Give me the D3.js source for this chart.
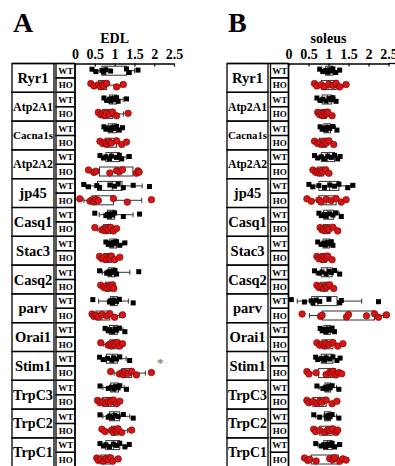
<!DOCTYPE html>
<html>
<head>
<meta charset="utf-8">
<script src="https://cdn.jsdelivr.net/npm/d3@7"></script>
<style>
  body { margin: 0; background: #fff; }
  svg { display: block; }
  text { font-family: "Liberation Serif", "Times New Roman", serif; font-weight: bold; }
</style>
</head>
<body>
<svg id="chart" width="395" height="466"></svg>
<script>
const genes = ['Ryr1', 'Atp2A1', 'Cacna1s', 'Atp2A2', 'jp45', 'Casq1', 'Stac3',
  'Casq2', 'parv', 'Orai1', 'Stim1', 'TrpC3', 'TrpC2', 'TrpC1'];
const groups = ['WT', 'HO'];
const tickValues = [0, 0.5, 1, 1.5, 2, 2.5];

// EDL, relative expression per animal
const edlWT = [
  [0.43, 0.53, 0.68, 0.72, 0.78, 0.9, 1.3, 1.37, 1.59],
  [0.73, 0.8, 0.87, 0.9, 0.95, 0.98, 1.05, 1.09, 1.3],
  [0.73, 0.78, 0.84, 0.9, 0.95, 0.98, 1.05, 1.12, 1.2],
  [0.63, 0.72, 0.78, 0.87, 0.92, 1.05, 1.12, 1.18, 1.37],
  [0.22, 0.34, 0.55, 0.62, 0.88, 1.0, 1.09, 1.22, 1.47, 1.88],
  [0.5, 0.78, 0.82, 0.87, 0.9, 0.95, 1.0, 1.22, 1.63],
  [0.78, 0.84, 0.88, 0.92, 0.97, 1.01, 1.05, 1.13, 1.26],
  [0.62, 0.8, 0.84, 0.88, 0.92, 0.97, 1.01, 1.05, 1.61],
  [0.45, 0.87, 0.9, 0.95, 0.98, 1.05, 1.12, 1.47],
  [0.76, 0.84, 0.88, 0.95, 1.01, 1.05, 1.12, 1.26],
  [0.62, 0.72, 0.82, 0.93, 0.97, 1.05, 1.13, 1.38],
  [0.63, 0.84, 0.92, 0.98, 1.03, 1.09, 1.13, 1.3],
  [0.63, 0.84, 0.88, 0.95, 1.01, 1.09, 1.22, 1.47],
  [0.63, 0.72, 0.78, 0.87, 0.97, 1.05, 1.13, 1.26, 1.37]
];
const edlHO = [
  [0.4, 0.48, 0.59, 0.65, 0.7, 0.73, 0.8, 1.05, 1.22],
  [0.59, 0.65, 0.7, 0.76, 0.8, 0.87, 0.95, 1.05, 1.34],
  [0.63, 0.7, 0.76, 0.8, 0.87, 0.92, 1.05, 1.18, 1.3],
  [0.34, 0.48, 0.53, 0.88, 1.05, 1.12, 1.2, 1.55, 1.59, 1.62],
  [0.12, 0.38, 0.43, 0.48, 0.53, 0.59, 0.97, 1.32, 1.93],
  [0.5, 0.68, 0.72, 0.76, 0.8, 0.84, 0.9, 0.97, 1.05],
  [0.62, 0.68, 0.73, 0.8, 0.84, 0.88, 0.92, 1.0, 1.13],
  [0.65, 0.73, 0.78, 0.82, 0.87, 0.9, 0.95, 0.98],
  [0.43, 0.48, 0.53, 0.59, 0.68, 0.8, 0.88, 1.0, 1.2],
  [0.65, 0.84, 0.88, 0.92, 0.97, 1.01, 1.07, 1.13, 1.2],
  [0.9, 1.12, 1.18, 1.22, 1.26, 1.34, 1.43, 1.55, 1.93],
  [0.57, 0.63, 0.7, 0.78, 0.84, 0.9, 0.97, 1.05, 1.13],
  [0.68, 0.76, 0.92, 0.97, 1.01, 1.05, 1.09, 1.18, 1.43],
  [0.55, 0.59, 0.65, 0.72, 0.78, 0.84, 0.9, 0.95, 1.09]
];

// soleus
const solWT = [
  [0.78, 0.86, 0.93, 0.98, 1.03, 1.07, 1.11, 1.18, 1.28],
  [0.71, 0.79, 0.86, 0.94, 1.01, 1.07, 1.11, 1.19],
  [0.79, 0.84, 0.9, 0.94, 0.98, 1.03, 1.11, 1.21],
  [0.65, 0.73, 0.82, 0.9, 0.98, 1.07, 1.15, 1.23, 1.29],
  [0.51, 0.61, 0.76, 0.9, 1.03, 1.15, 1.26, 1.48, 1.61],
  [0.76, 0.82, 0.9, 0.94, 1.03, 1.11, 1.19, 1.32],
  [0.73, 0.82, 0.88, 0.93, 0.96, 1.01, 1.07, 1.11],
  [0.65, 0.76, 0.84, 0.94, 1.01, 1.07, 1.15, 1.28],
  [0.07, 0.4, 0.57, 0.61, 0.69, 0.78, 1.01, 1.28, 1.32, 2.25],
  [0.79, 0.84, 0.9, 0.94, 0.98, 1.03, 1.09, 1.15],
  [0.68, 0.73, 0.82, 0.9, 0.94, 1.03, 1.11, 1.21, 1.29],
  [0.71, 0.86, 0.93, 0.96, 1.01, 1.04, 1.09, 1.26],
  [0.63, 0.78, 0.94, 0.98, 1.01, 1.04, 1.09, 1.26],
  [0.68, 0.82, 0.88, 0.93, 0.98, 1.03, 1.09, 1.15, 1.28]
];
const solHO = [
  [0.65, 0.71, 0.82, 0.9, 1.01, 1.11, 1.19, 1.28, 1.44],
  [0.73, 0.78, 0.82, 0.86, 0.9, 0.94, 0.98, 1.09],
  [0.65, 0.73, 0.79, 0.86, 0.9, 0.94, 1.01, 1.13],
  [0.61, 0.68, 0.73, 0.78, 0.82, 0.86, 0.93, 1.01],
  [0.46, 0.57, 0.76, 0.82, 0.94, 1.07, 1.19, 1.32, 1.44],
  [0.79, 0.84, 0.88, 0.93, 0.96, 1.01, 1.11, 1.23],
  [0.71, 0.76, 0.82, 0.86, 0.9, 0.94, 0.98, 1.09],
  [0.71, 0.76, 0.82, 0.88, 0.93, 0.96, 1.03, 1.13],
  [0.34, 0.8, 0.84, 1.45, 1.5, 1.95, 2.15, 2.25, 2.45],
  [0.71, 0.78, 0.84, 0.9, 0.94, 1.01, 1.11, 1.23, 1.36],
  [0.46, 0.51, 0.69, 0.94, 1.03, 1.07, 1.11, 1.19, 1.26, 1.33],
  [0.46, 0.51, 0.61, 0.71, 0.78, 0.84, 0.94, 1.09, 1.21],
  [0.63, 0.68, 0.78, 0.9, 0.98, 1.03, 1.11, 1.19, 1.23],
  [0.4, 0.48, 0.53, 0.69, 1.03, 1.11, 1.15, 1.28, 1.36, 1.44]
];

// significance marks: [gene, value]
const edlStars = [['Stim1', 2.15]];

// fixed vertical scatter so dots don't sit on one line
const jitter = [-2.5, 1.5, -0.5, 2.5, -1.5, 0.5, -3, 3, -1, 1];

const svg = d3.select('#chart');
const topY = 63.5, rowH = 28.8;

function drawPanel(p) {
  const g = svg.append('g');
  const x = d3.scaleLinear().domain([0, 2.5]).range([p.zero, p.end]);
  const y = d3.scaleBand().domain(genes).range([topY, topY + genes.length * rowH]);
  const sub = d3.scaleBand().domain(groups).range([0, rowH]);

  // panel letter + title
  g.append('text').attr('x', p.left + 1).attr('y', 32)
    .attr('font-size', 28).text(p.letter);
  g.append('text').attr('x', x(1)).attr('y', 43).attr('text-anchor', 'middle')
    .attr('font-size', 14).text(p.title);

  // table
  const table = g.append('g').attr('stroke', '#000').attr('stroke-width', 1.3).attr('fill', 'none');
  genes.forEach(gene => {
    table.append('rect').attr('x', p.left).attr('y', y(gene))
      .attr('width', p.split - p.left).attr('height', rowH);
    groups.forEach(gr => {
      table.append('rect').attr('x', p.sub).attr('y', y(gene) + sub(gr))
        .attr('width', p.zero - p.sub).attr('height', sub.bandwidth());
    });
  });
  g.append('line').attr('x1', p.left).attr('x2', p.zero).attr('y1', topY).attr('y2', topY)
    .attr('stroke', '#000').attr('stroke-width', 1.3);
  g.append('line').attr('x1', p.zero).attr('x2', p.zero).attr('y1', topY).attr('y2', 470)
    .attr('stroke', '#000').attr('stroke-width', 1.5);

  const labels = g.append('g');
  const maxW = p.split - p.left - 2;
  genes.forEach(gene => {
    const t = labels.append('text').attr('x', (p.left + p.split) / 2).attr('y', y(gene) + rowH / 2)
      .attr('dy', '0.35em').attr('text-anchor', 'middle').attr('font-size', 14.5).text(gene);
    const w = t.node().getComputedTextLength();
    if (w > maxW) t.attr('font-size', 14.5 * maxW / w);
    groups.forEach(gr => {
      labels.append('text').attr('x', (p.sub + p.zero) / 2 + 0.3)
        .attr('y', y(gene) + sub(gr) + sub.bandwidth() / 2).attr('dy', '0.36em')
        .attr('text-anchor', 'middle').attr('font-size', 9).text(gr);
    });
  });

  // axis on top
  const axis = g.append('g').attr('transform', `translate(0,${topY})`)
    .call(d3.axisTop(x).tickValues(tickValues).tickFormat(d => String(d))
      .tickSizeInner(-3).tickSizeOuter(0).tickPadding(5));
  axis.select('.domain').attr('stroke-width', 1.3);
  axis.selectAll('.tick line').attr('stroke-width', 1.2);
  axis.selectAll('.tick text').attr('font-size', 14).attr('fill', '#000')
    .attr('font-family', '"Liberation Serif", serif').attr('font-weight', 'bold');
  if (p.extend) {
    g.append('line').attr('x1', p.end).attr('x2', p.extend).attr('y1', topY).attr('y2', topY)
      .attr('stroke', '#000').attr('stroke-width', 1.3);
  }

  // box plots
  const plot = g.append('g');
  genes.forEach((gene, i) => {
    groups.forEach(gr => {
      const raw = (gr === 'WT' ? p.wt : p.ho)[i];
      const vals = raw.slice().sort(d3.ascending);
      const cy = y(gene) + sub(gr) + sub.bandwidth() / 2;
      const q1 = d3.quantile(vals, 0.25), med = d3.quantile(vals, 0.5), q3 = d3.quantile(vals, 0.75);
      const lo = d3.quantile(vals, 0.05), hi = d3.quantile(vals, 0.95);
      const bg = plot.append('g').attr('stroke', '#333').attr('stroke-width', 1).attr('fill', 'none');
      bg.append('line').attr('x1', x(lo)).attr('x2', x(q1)).attr('y1', cy).attr('y2', cy);
      bg.append('line').attr('x1', x(q3)).attr('x2', x(hi)).attr('y1', cy).attr('y2', cy);
      [lo, hi].forEach(v => bg.append('line').attr('x1', x(v)).attr('x2', x(v))
        .attr('y1', cy - 2.5).attr('y2', cy + 2.5));
      bg.append('rect').attr('x', x(q1)).attr('y', cy - 4.5)
        .attr('width', x(q3) - x(q1)).attr('height', 9);
      bg.append('line').attr('x1', x(med)).attr('x2', x(med)).attr('y1', cy - 4.5).attr('y2', cy + 4.5);

      if (gr === 'WT') {
        plot.append('g').selectAll('rect').data(raw).join('rect')
          .attr('x', d => x(d) - 2.5).attr('y', (d, k) => cy + jitter[k % jitter.length] * 0.6 - 2.5)
          .attr('width', 5).attr('height', 5).attr('fill', '#000');
      } else {
        plot.append('g').selectAll('circle').data(raw).join('circle')
          .attr('cx', d => x(d)).attr('cy', (d, k) => cy + jitter[k % jitter.length] * 0.6)
          .attr('r', 3.3).attr('fill', '#d41616').attr('stroke', '#7a0000').attr('stroke-width', 0.6);
      }
    });
  });

  (p.stars || []).forEach(([gene, v]) => {
    g.append('text').attr('x', x(v)).attr('y', y(gene) + 15).attr('text-anchor', 'middle')
      .attr('font-size', 13).attr('font-weight', 'normal').attr('fill', '#808080').text('*');
  });
}

drawPanel({ letter: 'A', title: 'EDL', wt: edlWT, ho: edlHO, left: 12, split: 54, sub: 56,
  zero: 75, end: 174, stars: edlStars });
drawPanel({ letter: 'B', title: 'soleus', wt: solWT, ho: solHO, left: 227, split: 268, sub: 270.5,
  zero: 288.5, end: 388.5, extend: 396 });
</script>
</body>
</html>
